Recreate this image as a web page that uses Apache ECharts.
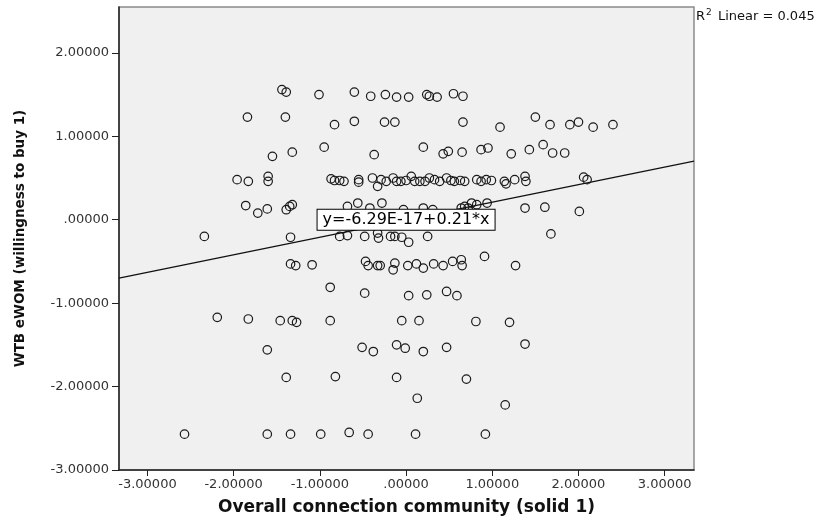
<!DOCTYPE html>
<html><head><meta charset="utf-8">
<script src="https://cdn.jsdelivr.net/npm/echarts@6/dist/echarts.min.js"></script>
<style>html,body{margin:0;padding:0;background:#fff}#c{width:824px;height:522px}</style>
</head><body><div id="c"></div>
<script>
// Overall connection community (solid 1)
const xValues = [
  -1.44,-1.39,-1.01,-0.60,-0.41,-0.24,-0.11,0.03,0.24,0.27,0.36,0.55,0.66,
  -1.84,-1.40,-0.83,-0.60,-0.25,-0.13,0.66,1.09,1.50,1.67,1.90,2.00,2.17,2.40,
  -1.55,-1.32,-0.95,-0.37,0.20,0.43,0.49,0.65,0.87,0.95,1.22,1.43,1.59,1.70,1.84,
  -1.96,-1.83,-1.60,-1.60,-0.87,-0.83,-0.77,-0.72,-0.55,-0.55,-0.39,-0.33,-0.29,-0.23,-0.15,-0.11,-0.06,
  0.00,0.06,0.10,0.16,0.22,0.27,0.33,0.39,0.47,0.52,0.56,0.63,0.68,0.82,0.87,0.93,0.99,1.14,1.16,1.26,1.38,1.39,2.06,2.10,
  -1.86,-1.72,-1.61,-1.39,-1.35,-1.32,-0.68,-0.56,-0.42,-0.28,-0.03,0.20,0.31,0.64,0.68,0.72,0.76,0.82,0.94,1.38,1.61,2.01,1.68,
  -2.34,-1.34,-0.77,-0.68,-0.48,-0.33,-0.32,-0.18,-0.13,-0.05,0.03,0.25,
  -1.34,-1.28,-1.09,-0.47,-0.44,-0.33,-0.30,-0.13,-0.15,0.02,0.12,0.20,0.32,0.43,0.54,0.64,0.65,0.91,1.27,
  -0.88,-0.48,0.03,0.24,0.47,0.59,
  -2.19,-1.83,-1.46,-1.32,-1.27,-0.88,-0.05,0.15,0.81,1.20,
  -1.61,-0.51,-0.38,-0.11,-0.01,0.20,0.47,1.38,
  -1.39,-0.82,-0.11,0.70,
  0.13,1.15,
  -2.57,-1.61,-1.34,-0.99,-0.66,-0.44,0.11,0.92
];
// WTB eWOM (willingness to buy 1)
const yValues = [
  1.56,1.53,1.50,1.53,1.48,1.50,1.47,1.47,1.50,1.48,1.47,1.51,1.48,
  1.23,1.23,1.14,1.18,1.17,1.17,1.17,1.11,1.23,1.14,1.14,1.17,1.11,1.14,
  0.76,0.81,0.87,0.78,0.87,0.79,0.82,0.81,0.84,0.86,0.79,0.84,0.90,0.80,0.80,
  0.48,0.46,0.52,0.46,0.49,0.47,0.47,0.46,0.48,0.45,0.50,0.40,0.48,0.46,0.50,0.46,0.46,
  0.47,0.52,0.46,0.46,0.46,0.50,0.48,0.46,0.50,0.47,0.46,0.47,0.46,0.48,0.46,0.48,0.47,0.46,0.43,0.48,0.52,0.46,0.51,0.48,
  0.17,0.08,0.13,0.12,0.16,0.18,0.16,0.20,0.14,0.20,0.12,0.14,0.12,0.14,0.16,0.14,0.20,0.18,0.20,0.14,0.15,0.10,-0.17,
  -0.20,-0.21,-0.20,-0.19,-0.20,-0.16,-0.22,-0.20,-0.20,-0.21,-0.27,-0.20,
  -0.53,-0.55,-0.54,-0.50,-0.55,-0.55,-0.55,-0.52,-0.60,-0.55,-0.53,-0.58,-0.53,-0.55,-0.50,-0.48,-0.55,-0.44,-0.55,
  -0.81,-0.88,-0.91,-0.90,-0.86,-0.91,
  -1.17,-1.19,-1.21,-1.21,-1.23,-1.21,-1.21,-1.21,-1.22,-1.23,
  -1.56,-1.53,-1.58,-1.50,-1.54,-1.58,-1.53,-1.49,
  -1.89,-1.88,-1.89,-1.91,
  -2.14,-2.22,
  -2.57,-2.57,-2.57,-2.57,-2.55,-2.57,-2.57,-2.57
];
const xTicks = [-3,-2,-1,0,1,2,3];
const yTicks = [-3,-2,-1,0,1,2];
const xRange = [-3.33, 3.34];
const yRange = [-3, 2.55];
const fitIntercept = -6.29e-17;
const fitSlope = 0.21;
const fitLabel = 'y=-6.29E-17+0.21*x';
const rSquared = '0.045';
const xTitle = 'Overall connection community (solid 1)';
const yTitle = 'WTB eWOM (willingness to buy 1)';

const points = xValues.map((x, i) => [x, yValues[i]]);
const fitLine = xRange.map(x => [x, fitIntercept + fitSlope * x]);
const fmt = v => { let s = Math.abs(v).toFixed(5); if (s[0] === '0') s = s.slice(1); return (v < 0 ? '-' : '') + s; };
const FONT = 'DejaVu Sans';

const chart = echarts.init(document.getElementById('c'), null, {renderer: 'canvas'});
chart.setOption({
  animation: false,
  backgroundColor: '#fff',
  grid: {left: 119, right: 130, top: 7, bottom: 52, show: true, backgroundColor: '#f0f0f0',
         borderColor: '#8a8a8a', borderWidth: 1.5, containLabel: false, outerBoundsMode: 'none'},
  xAxis: {
    type: 'value', min: xRange[0], max: xRange[1],
    name: xTitle, nameLocation: 'middle', nameGap: 29,
    nameTextStyle: {fontFamily: FONT, fontWeight: 'bold', fontSize: 17, color: '#111'},
    axisLine: {show: true, onZero: false, lineStyle: {color: '#222', width: 1.5}},
    axisTick: {show: true, length: 6, customValues: xTicks, lineStyle: {color: '#222', width: 1}},
    axisLabel: {customValues: xTicks, formatter: fmt, margin: 8, fontFamily: FONT, fontSize: 13, color: '#333'},
    splitLine: {show: false}
  },
  yAxis: {
    type: 'value', min: yRange[0], max: yRange[1],
    name: yTitle, nameLocation: 'middle', nameGap: 92, nameRotate: 90,
    nameTextStyle: {fontFamily: FONT, fontWeight: 'bold', fontSize: 13.5, color: '#111'},
    axisLine: {show: true, onZero: false, lineStyle: {color: '#222', width: 1.5}},
    axisTick: {show: true, length: 7, customValues: yTicks, lineStyle: {color: '#222', width: 1}},
    axisLabel: {customValues: yTicks, formatter: fmt, margin: 10, fontFamily: FONT, fontSize: 13, color: '#333'},
    splitLine: {show: false}
  },
  series: [
    {
      type: 'scatter', data: points, symbol: 'circle', symbolSize: 8.5,
      itemStyle: {color: 'rgba(0,0,0,0)', borderColor: '#1a1a1a', borderWidth: 1.2, opacity: 1},
      emphasis: {disabled: true}, z: 2
    },
    {
      type: 'line', data: fitLine, showSymbol: false, symbol: 'none',
      lineStyle: {color: '#111', width: 1.3}, z: 3, silent: true,
      markPoint: {
        symbol: 'rect', symbolSize: 0, silent: true,
        data: [{coord: [0, fitIntercept]}],
        label: {show: true, position: 'inside', formatter: fitLabel,
          fontFamily: FONT, fontSize: 16, lineHeight: 19, color: '#000', backgroundColor: '#fff',
          borderColor: '#000', borderWidth: 1, padding: [1, 5, 0, 5]}
      }
    }
  ],
  graphic: [{
    type: 'text', left: 696, top: 8, silent: true,
    style: {
      text: '{r|R}{s|2}{r| Linear = ' + rSquared + '}',
      rich: {
        r: {fontFamily: FONT, fontSize: 13, fill: '#111', lineHeight: 17},
        s: {fontFamily: FONT, fontSize: 9, fill: '#111', padding: [0, 2, 8, 1]}
      }
    }
  }]
});
</script></body></html>
